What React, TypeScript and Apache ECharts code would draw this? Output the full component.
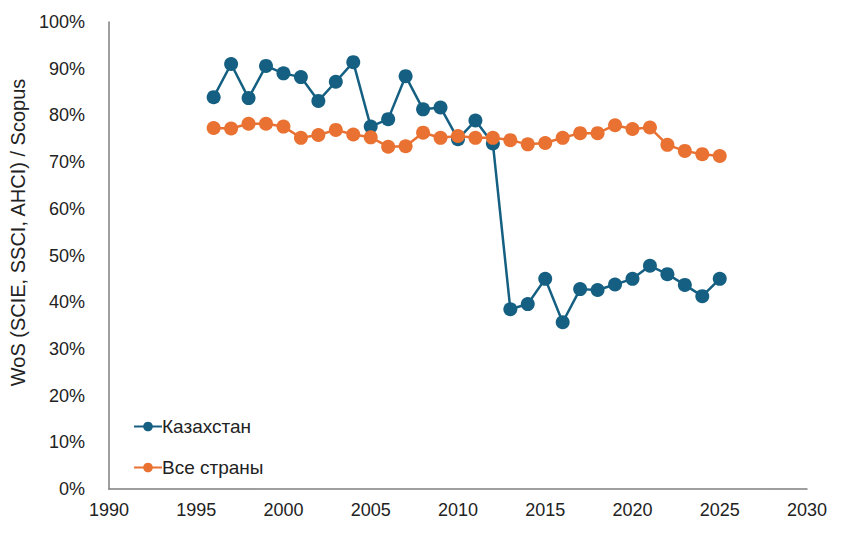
import React, { useEffect, useRef } from "react";
import * as echarts from "echarts";

const years = [1996, 1997, 1998, 1999, 2000, 2001, 2002, 2003, 2004, 2005, 2006, 2007, 2008, 2009, 2010, 2011, 2012, 2013, 2014, 2015, 2016, 2017, 2018, 2019, 2020, 2021, 2022, 2023, 2024, 2025];
const kazakhstan = [83.9, 91.0, 83.7, 90.6, 89.0, 88.2, 83.1, 87.2, 91.4, 77.6, 79.2, 88.4, 81.3, 81.7, 74.9, 78.9, 74.0, 38.5, 39.6, 45.0, 35.7, 42.8, 42.6, 43.8, 45.0, 47.8, 46.0, 43.7, 41.3, 45.0];
const allCountries = [77.3, 77.2, 78.2, 78.2, 77.6, 75.2, 75.8, 76.9, 75.9, 75.3, 73.3, 73.4, 76.3, 75.2, 75.6, 75.2, 75.2, 74.7, 73.8, 74.1, 75.2, 76.2, 76.2, 77.9, 77.1, 77.4, 73.7, 72.4, 71.7, 71.3];
const seriesNames = ["Казахстан", "Все страны"];
const yAxisTitle = "WoS (SCIE, SSCI, AHCI) / Scopus";

export default function App() {
  const ref = useRef<HTMLDivElement>(null);
  useEffect(() => {
    document.body.style.margin = "0";
    const chart = echarts.init(ref.current!, null, { renderer: "svg" });
    const font = "'Liberation Sans', Arial, sans-serif";
    const mk = (name: string, vals: number[], color: string) => ({
      name,
      type: "line",
      data: years.map((y, i) => [y, vals[i]]),
      symbol: "circle",
      symbolSize: 14,
      lineStyle: { color, width: 2.5 },
      itemStyle: { color },
      z: name === seriesNames[0] ? 2 : 3,
    });
    chart.setOption({
      animation: false,
      textStyle: { fontFamily: font },
      grid: { left: 107, right: 36, top: 22, bottom: 48 },
      legend: {
        orient: "vertical",
        left: 128,
        top: 412,
        itemGap: 22,
        itemWidth: 28,
        itemHeight: 12,
        data: seriesNames,
        textStyle: { fontSize: 19, color: "#222", fontFamily: font, padding: [0, 0, 0, -5] },
      },
      xAxis: {
        type: "value",
        min: 1990,
        max: 2030,
        interval: 5,
        splitLine: { show: false },
        axisTick: { show: false },
        axisLine: { lineStyle: { color: "#7f7f7f", width: 1.5 } },
        axisLabel: { color: "#222", fontSize: 18, margin: 12, formatter: (v: number) => String(v) },
      },
      yAxis: {
        type: "value",
        min: 0,
        max: 100,
        interval: 10,
        name: yAxisTitle,
        nameLocation: "middle",
        nameGap: 79,
        nameTextStyle: { fontSize: 20, color: "#222", padding: [0, 0, 0, 46] },
        splitLine: { show: false },
        axisTick: { show: false },
        axisLine: { show: true, lineStyle: { color: "#7f7f7f", width: 1.5 } },
        axisLabel: { color: "#222", fontSize: 18, margin: 24, formatter: (v: number) => v + "%" },
      },
      series: [mk(seriesNames[0], kazakhstan, "#156082"), mk(seriesNames[1], allCountries, "#E97132")],
    });
    return () => chart.dispose();
  }, []);
  return <div ref={ref} style={{ width: 843, height: 537 }} />;
}
